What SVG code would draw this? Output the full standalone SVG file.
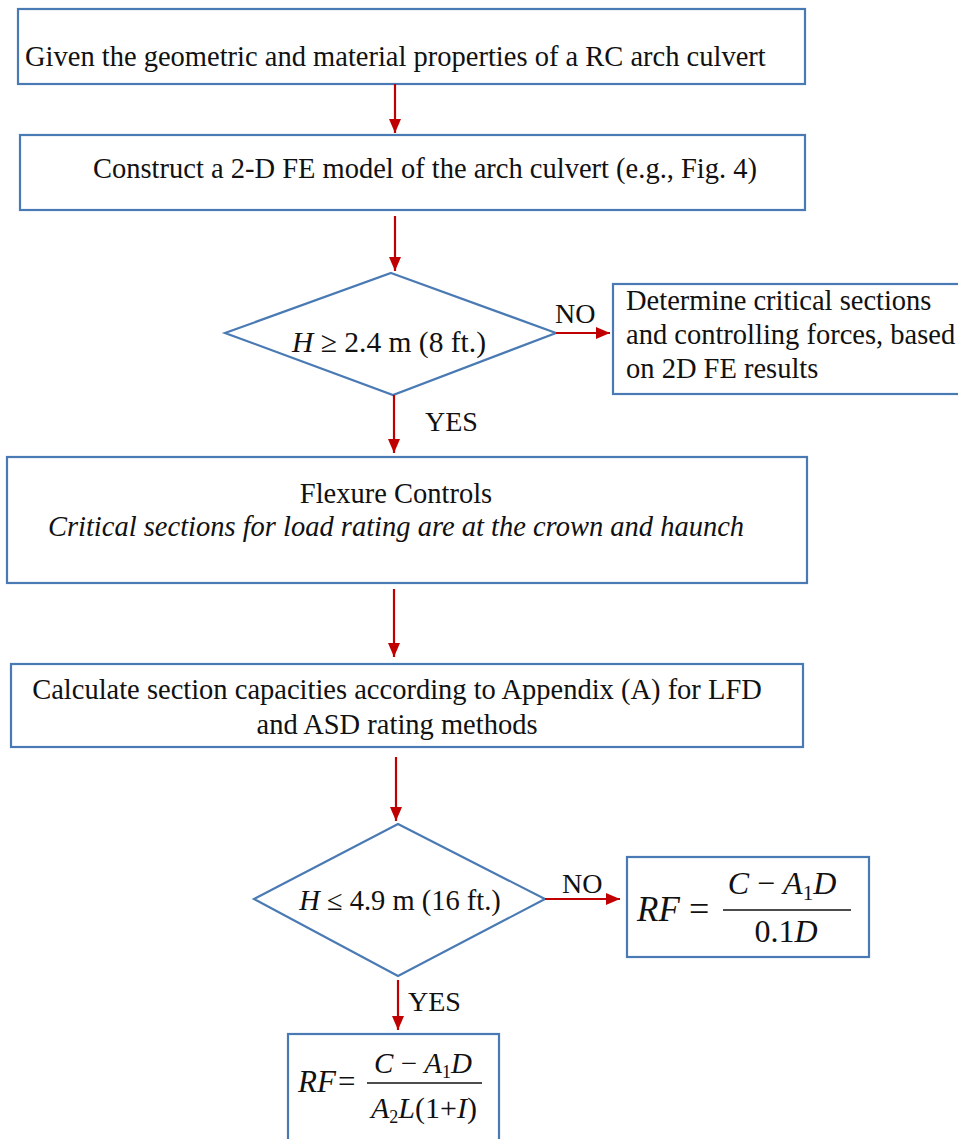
<svg xmlns="http://www.w3.org/2000/svg" width="958" height="1139" viewBox="0 0 958 1139">
<style>
.box{fill:#fff;stroke:#4a7ab4;stroke-width:2.2}
.t{font-family:'Liberation Serif','DejaVu Serif',serif;font-size:28.5px;fill:#111}
.s{font-size:28px}
.c{text-anchor:middle}
.i{font-style:italic}
.m{font-family:'Liberation Serif','DejaVu Serif',serif;fill:#111}
.cn{stroke:#c00000;stroke-width:2.2;fill:none;marker-end:url(#ah)}
.bar{stroke:#111;stroke-width:1.6}
</style>
<defs>
<marker id="ah" viewBox="0 0 14 12" refX="14" refY="6" markerWidth="14" markerHeight="12" markerUnits="userSpaceOnUse" orient="auto">
<path d="M0,0 L14,6 L0,12 z" fill="#c00000"/>
</marker>
</defs>
<rect width="958" height="1139" fill="#fff"/>
<g id="n1">
<rect class="box" x="18" y="9" width="787" height="75"/>
<text class="t" x="25" y="66">Given the geometric and material properties of a RC arch culvert</text>
</g>
<g id="n2">
<rect class="box" x="20" y="135" width="785" height="75"/>
<text class="t c" x="425" y="178">Construct a 2-D FE model of the arch culvert (e.g., Fig. 4)</text>
</g>
<g id="n3">
<polygon class="box" points="391,273 556,333 393,395 225,333"/>
<text class="t c" x="389" y="352" style="font-size:29.5px"><tspan class="i">H</tspan> ≥ 2.4 m (8 ft.)</text>
</g>
<g id="n4">
<rect class="box" x="613" y="284" width="350" height="110"/>
<text class="t" x="626" y="310">Determine critical sections</text>
<text class="t" x="626" y="344">and controlling forces, based</text>
<text class="t" x="626" y="378">on 2D FE results</text>
</g>
<g id="n5">
<rect class="box" x="7" y="457" width="800" height="126"/>
<text class="t c" x="396" y="503">Flexure Controls</text>
<text class="t c i" x="396" y="536">Critical sections for load rating are at the crown and haunch</text>
</g>
<g id="n6">
<rect class="box" x="11" y="664" width="792" height="83"/>
<text class="t c" x="397" y="699">Calculate section capacities according to Appendix (A) for LFD</text>
<text class="t c" x="397" y="734">and ASD rating methods</text>
</g>
<g id="n7">
<polygon class="box" points="398,824 545,899 398,976 254,899"/>
<text class="t c" x="400" y="910"><tspan class="i">H</tspan> ≤ 4.9 m (16 ft.)</text>
</g>
<g id="n8">
<rect class="box" x="627" y="857" width="242" height="100"/>
<text class="m i" x="637" y="921" font-size="35">RF</text>
<text class="m" x="689" y="921" font-size="36">=</text>
<text class="m c" x="782" y="894" font-size="32"><tspan class="i">C</tspan> − <tspan class="i">A</tspan><tspan font-size="21" dy="6">1</tspan><tspan class="i" dy="-6">D</tspan></text>
<line class="bar" x1="723" y1="910" x2="851" y2="910"/>
<text class="m c" x="786" y="942" font-size="32">0.1<tspan class="i">D</tspan></text>
</g>
<g id="n9">
<rect class="box" x="288" y="1034" width="211" height="120"/>
<text class="m i" x="298" y="1092" font-size="31">RF</text>
<text class="m" x="338" y="1092" font-size="31">=</text>
<text class="m c" x="423" y="1073" font-size="29"><tspan class="i">C</tspan> − <tspan class="i">A</tspan><tspan font-size="18" dy="5">1</tspan><tspan class="i" dy="-5">D</tspan></text>
<line class="bar" x1="367" y1="1083" x2="482" y2="1083"/>
<text class="m c" x="424" y="1118" font-size="30"><tspan class="i">A</tspan><tspan font-size="18" dy="5">2</tspan><tspan class="i" dy="-5">L</tspan>(1+<tspan class="i">I</tspan>)</text>
</g>
<g id="connectors">
<line class="cn" x1="395" y1="84" x2="395" y2="133"/>
<line class="cn" x1="395" y1="216" x2="395" y2="271"/>
<line class="cn" x1="556" y1="333" x2="610" y2="333"/>
<line class="cn" x1="394" y1="395" x2="394" y2="453"/>
<line class="cn" x1="394" y1="589" x2="394" y2="657"/>
<line class="cn" x1="396" y1="757" x2="396" y2="821"/>
<line class="cn" x1="545" y1="899" x2="620" y2="899"/>
<line class="cn" x1="398" y1="980" x2="398" y2="1030"/>
<text class="t s" x="555" y="323">NO</text>
<text class="t s" x="425" y="431">YES</text>
<text class="t s" x="562" y="893">NO</text>
<text class="t s" x="408" y="1011">YES</text>
</g>
</svg>
